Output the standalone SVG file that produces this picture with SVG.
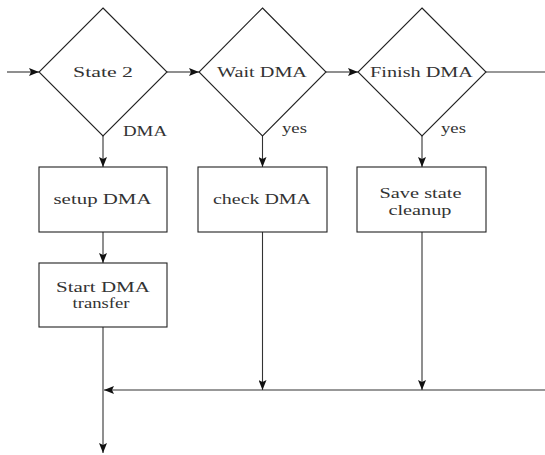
<svg xmlns="http://www.w3.org/2000/svg" width="545" height="455" viewBox="0 0 545 455">
<style>
.shape{fill:none;stroke:#222;stroke-width:1.1}
.line{fill:none;stroke:#333;stroke-width:1.1}
text{font-family:"Liberation Serif","DejaVu Serif",serif;font-size:15.5px;fill:#333}
.c{text-anchor:middle}
</style>
<defs>
<marker id="ah" viewBox="0 0 10 8" refX="10" refY="4" markerWidth="10" markerHeight="8" markerUnits="userSpaceOnUse" orient="auto">
<path d="M0,0 L10,4 L0,8 L2,4 Z" fill="#111"/>
</marker>
</defs>
<rect width="545" height="455" fill="#fff"/>
<g id="connectors">
<line class="line" x1="7" y1="72" x2="39" y2="72" marker-end="url(#ah)"/>
<line class="line" x1="167" y1="72" x2="199" y2="72" marker-end="url(#ah)"/>
<line class="line" x1="326" y1="72" x2="358" y2="72" marker-end="url(#ah)"/>
<line class="line" x1="486" y1="72" x2="545" y2="72"/>
<line class="line" x1="103" y1="136" x2="103" y2="167" marker-end="url(#ah)"/>
<line class="line" x1="262.5" y1="136" x2="262.5" y2="167" marker-end="url(#ah)"/>
<line class="line" x1="422" y1="136" x2="422" y2="167" marker-end="url(#ah)"/>
<line class="line" x1="103" y1="232" x2="103" y2="263" marker-end="url(#ah)"/>
<line class="line" x1="262.5" y1="232" x2="262.5" y2="390" marker-end="url(#ah)"/>
<line class="line" x1="422" y1="232" x2="422" y2="390" marker-end="url(#ah)"/>
<line class="line" x1="545" y1="390" x2="104" y2="390" marker-end="url(#ah)"/>
<line class="line" x1="103" y1="327" x2="103" y2="453" marker-end="url(#ah)"/>
<text x="123" y="136" textLength="44" lengthAdjust="spacingAndGlyphs">DMA</text>
<text x="282" y="133" textLength="25" lengthAdjust="spacingAndGlyphs">yes</text>
<text x="441" y="133" textLength="25" lengthAdjust="spacingAndGlyphs">yes</text>
</g>
<g id="state2">
<polygon class="shape" points="103,8 167,72 103,136 39,72"/>
<text class="c" x="103" y="77" textLength="60" lengthAdjust="spacingAndGlyphs">State 2</text>
</g>
<g id="waitdma">
<polygon class="shape" points="262.5,8 326,72 262.5,136 199,72"/>
<text class="c" x="262" y="77" textLength="90" lengthAdjust="spacingAndGlyphs">Wait DMA</text>
</g>
<g id="finishdma">
<polygon class="shape" points="422,8 486,72 422,136 358,72"/>
<text class="c" x="421.5" y="77" textLength="103" lengthAdjust="spacingAndGlyphs">Finish DMA</text>
</g>
<g id="setupdma">
<rect class="shape" x="39" y="167" width="128" height="65"/>
<text class="c" x="102.5" y="203.5" textLength="98" lengthAdjust="spacingAndGlyphs">setup DMA</text>
</g>
<g id="checkdma">
<rect class="shape" x="198" y="167" width="129" height="65"/>
<text class="c" x="262" y="204" textLength="98" lengthAdjust="spacingAndGlyphs">check DMA</text>
</g>
<g id="savestate">
<rect class="shape" x="357" y="167" width="129" height="65"/>
<text class="c" x="420.5" y="198" textLength="82" lengthAdjust="spacingAndGlyphs">Save state</text>
<text class="c" x="420" y="215" textLength="63" lengthAdjust="spacingAndGlyphs">cleanup</text>
</g>
<g id="startdma">
<rect class="shape" x="39" y="263" width="128" height="64"/>
<text class="c" x="103" y="291.5" textLength="94" lengthAdjust="spacingAndGlyphs">Start DMA</text>
<text class="c" x="101" y="308" textLength="57" lengthAdjust="spacingAndGlyphs">transfer</text>
</g>
</svg>
